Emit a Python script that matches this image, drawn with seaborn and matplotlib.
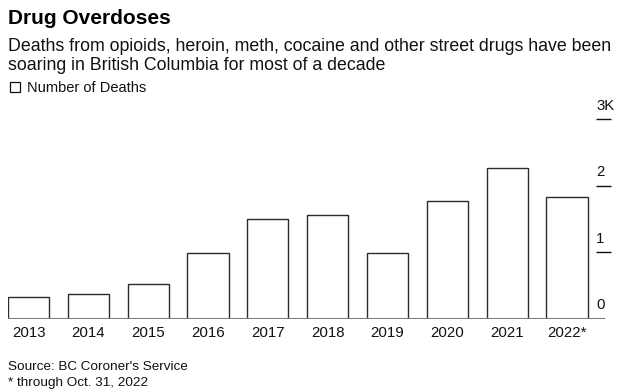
import matplotlib
matplotlib.use("Agg")
import matplotlib.pyplot as plt
import seaborn as sns
import pandas as pd

sns.set_theme(style="white")
plt.rcParams["font.family"] = ["Liberation Sans", "DejaVu Sans"]

# data
years = ["2013", "2014", "2015", "2016", "2017", "2018", "2019", "2020", "2021", "2022*"]
deaths = [335, 372, 530, 995, 1500, 1565, 990, 1777, 2275, 1835]
y_ticks = [0, 1000, 2000, 3000]
y_labels = ["0", "1", "2", "3K"]

W, H = 627, 391
fig = plt.figure(figsize=(W / 100, H / 100), dpi=100)

def px(x, y):
    return x / W, 1 - y / H

ax_left, ax_right = 8 / W, 605 / W
ax_bottom, ax_top = 1 - 319 / H, 1 - 119.3 / H
ax = fig.add_axes([ax_left, ax_bottom, ax_right - ax_left, ax_top - ax_bottom])

df = pd.DataFrame({"year": years, "deaths": deaths})
sns.barplot(data=df, x="year", y="deaths", color="white", edgecolor="#2b2b2b",
            linewidth=1.0, width=0.686, saturation=1, ax=ax, zorder=2)

ax.set_xlim(-0.343, 9.635)
ax.set_ylim(0, 3000)
ax.set_xlabel("")
ax.set_ylabel("")
ax.set_yticks([])
for s in ["top", "right", "left", "bottom"]:
    ax.spines[s].set_visible(False)
ax.axhline(0, color="#7a7a7a", lw=2.2, zorder=3)
ax.tick_params(axis="x", length=0, pad=5, labelsize=10.8, labelcolor="#111111")
ax.set_facecolor("white")

# right-side tick marks with labels above them
for v, lab in zip(y_ticks, y_labels):
    if v > 0:
        ax.hlines(v, 0.985, 1.01, transform=ax.get_yaxis_transform(),
                  color="#111111", lw=1.0, clip_on=False)
    ax.text(0.985, v + 100, lab, transform=ax.get_yaxis_transform(),
            ha="left", va="bottom", fontsize=10.8, color="#111111")

# header
fig.text(*px(8, 24), "Drug Overdoses", fontsize=15, fontweight="bold",
         color="#000000", va="baseline", ha="left")
fig.text(*px(8, 51), "Deaths from opioids, heroin, meth, cocaine and other street drugs have been",
         fontsize=12.8, color="#111111", va="baseline", ha="left")
fig.text(*px(8, 70), "soaring in British Columbia for most of a decade",
         fontsize=12.8, color="#111111", va="baseline", ha="left")

# legend
fig.patches.append(plt.Rectangle(px(10, 92), 10 / W, 10 / H, transform=fig.transFigure,
                                 facecolor="white", edgecolor="#111111", lw=0.9))
fig.text(*px(27, 92), "Number of Deaths", fontsize=10.5, color="#111111",
         va="baseline", ha="left")

# footer
fig.text(*px(8, 370), "Source: BC Coroner's Service", fontsize=9.7, color="#111111",
         va="baseline", ha="left")
fig.text(*px(8, 386), "* through Oct. 31, 2022", fontsize=9.7, color="#111111",
         va="baseline", ha="left")

fig.savefig("out.png", dpi=100, facecolor="white")
